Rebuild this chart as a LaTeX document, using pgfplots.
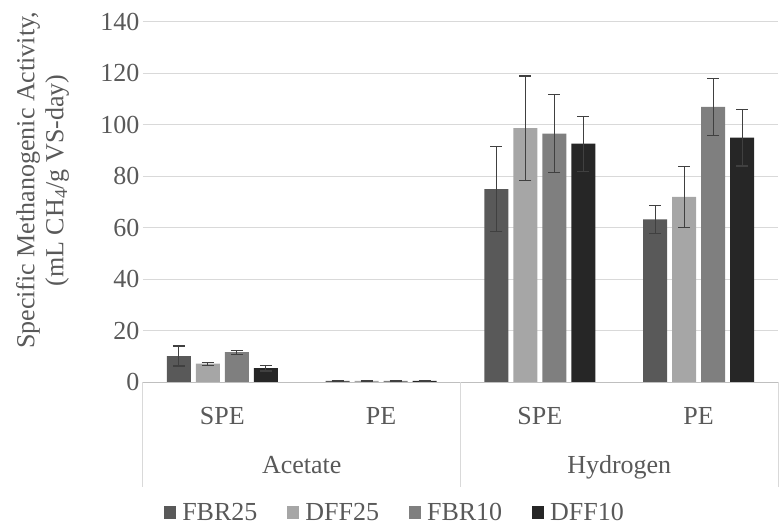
\documentclass[border=0pt]{standalone}
\usepackage{pgfplots}
\pgfplotsset{compat=1.18}
\usepackage{fontspec}
\setmainfont{Liberation Serif}
\definecolor{txt}{HTML}{595959}
\definecolor{gridc}{HTML}{D9D9D9}
\definecolor{axc}{HTML}{BFBFBF}
\definecolor{errc}{HTML}{404040}
\definecolor{cA}{HTML}{595959}
\definecolor{cB}{HTML}{A6A6A6}
\definecolor{cC}{HTML}{7F7F7F}
\definecolor{cD}{HTML}{262626}
\pgfplotstableread{
x y e
0 10.1 3.9
1 0.4 0.2
2 75.0 16.5
3 63.2 5.5
}\fbrtf
\pgfplotstableread{
x y e
0 7.1 0.6
1 0.4 0.2
2 98.7 20.3
3 72.0 11.8
}\dfftf
\pgfplotstableread{
x y e
0 11.6 0.8
1 0.4 0.2
2 96.6 15.2
3 107.0 11.0
}\fbrten
\pgfplotstableread{
x y e
0 5.4 1.1
1 0.4 0.2
2 92.7 10.7
3 95.0 11.0
}\dfften
\begin{document}
\begin{tikzpicture}[font=\fontsize{26bp}{31bp}\selectfont]
\path[use as bounding box] (-143bp,-145bp) rectangle (637bp,382bp);
\begin{axis}[
  at={(0,0)}, anchor=south west, scale only axis,
  width=635bp, height=360bp,
  xmin=-0.5, xmax=3.5, ymin=0, ymax=140,
  ytick={0,20,...,140},
  xtick={0,1,2,3}, xticklabels={SPE,PE,SPE,PE},
  ybar=5bp, bar width=24bp,
  axis line style={draw=none},
  major tick length=0pt,
  ymajorgrids, grid style={color=gridc, line width=1bp},
  tick label style={color=txt},
  /pgf/number format/assume math mode=true,
  xticklabel style={anchor=base, yshift=-42bp},
  clip=false,
  ylabel={\begin{tabular}{c}Specific Methanogenic Activity,\\[-2bp](mL CH\textsubscript{4}/g VS-day)\end{tabular}},
  ylabel style={at={(axis description cs:-0.158,0.56)}, anchor=center, color=txt},
  legend style={at={(axis description cs:0.397,-0.362)}, anchor=center, draw=none, fill=none,
    legend columns=4, text=txt,
    /tikz/every odd column/.append style={column sep=4bp},
    /tikz/every even column/.append style={column sep=28bp}},
  legend image code/.code={\fill[#1] (0bp,-7bp) rectangle (12bp,6bp);},
  error bars/y dir=both, error bars/y explicit,
  error bars/error bar style={color=errc, line width=1.2bp},
  error bars/error mark options={rotate=90, mark size=6bp, line width=1.2bp, color=errc},
]
\addplot[fill=cA, draw=none] table[x=x, y=y, y error=e] {\fbrtf};
\addplot[fill=cB, draw=none] table[x=x, y=y, y error=e] {\dfftf};
\addplot[fill=cC, draw=none] table[x=x, y=y, y error=e] {\fbrten};
\addplot[fill=cD, draw=none] table[x=x, y=y, y error=e] {\dfften};
\legend{FBR25, DFF25, FBR10, DFF10}
\draw[axc, line width=1bp] (axis cs:-0.5,0) -- (axis cs:3.5,0);
\draw[gridc, line width=1bp] (axis cs:-0.5,0) -- ([yshift=-105bp]axis cs:-0.5,0);
\draw[gridc, line width=1bp] (axis cs:1.5,0) -- ([yshift=-105bp]axis cs:1.5,0);
\draw[gridc, line width=1bp] (axis cs:3.5,0) -- ([yshift=-105bp]axis cs:3.5,0);
\node[anchor=base, txt] at ([yshift=-91bp]axis cs:0.5,0) {Acetate};
\node[anchor=base, txt] at ([yshift=-91bp]axis cs:2.5,0) {Hydrogen};
\end{axis}
\end{tikzpicture}
\end{document}
